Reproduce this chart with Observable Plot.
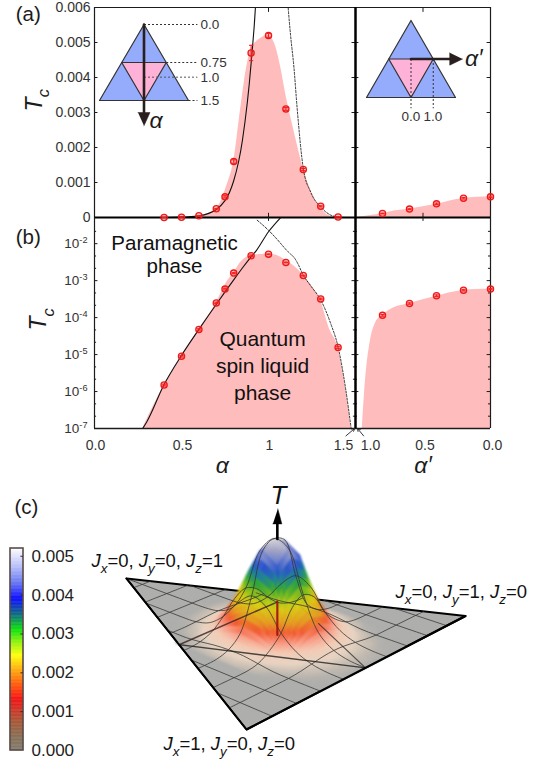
<!DOCTYPE html>
<html><head><meta charset="utf-8">
<script src="https://cdn.jsdelivr.net/npm/d3@7"></script>
<script src="https://cdn.jsdelivr.net/npm/@observablehq/plot@0.6"></script>
<style>html,body{margin:0;background:#fff}#page{position:relative;width:541px;height:762px;overflow:hidden}</style>
</head><body><div id="page"></div>
<script>
// ---------- data ----------
const pointAlpha=[.4,.5,.6,.7,.75,.8,.9,1,1.1,1.2,1.3,1.4];
const pointT=[1.5e-6,9e-6,4.8e-5,2.5e-4,5.9e-4,1.6e-3,4.7e-3,5.2e-3,3.1e-3,1.37e-3,3.2e-4,1.55e-5];
const pointErr=[8e-8,4e-7,2e-6,1e-5,3e-5,5e-5,2.2e-4,6e-5,4e-5,3e-5,1.5e-5,8e-7];
const primeAlpha=[.8,.6,.4,.2,0];
const primeT=[1.15e-4,2.4e-4,3.9e-4,5.5e-4,5.9e-4];
const primeErr=[6e-6,1e-5,2e-5,2e-5,2e-5];
const areaAlpha=[.277,.4,.5,.6,.7,.76,.8,.84,.875,.9,.95,1,1.04,1.07,1.1,1.15,1.2,1.25,1.3,1.35,1.4,1.442,1.475];
const areaT=[1e-7,1.5e-6,9e-6,4.8e-5,2.5e-4,9e-4,1.6e-3,3.1e-3,4.3e-3,4.8e-3,5.1e-3,5.2e-3,4.9e-3,4.3e-3,3.5e-3,2.4e-3,1.4e-3,7e-4,2.8e-4,5e-5,1.5e-5,1.3e-6,1e-7];
const primeAreaAlpha=[.95,.926,.889,.852,.8,.74,.6,.4,.2,0];
const primeAreaT=[1e-7,2e-6,2.4e-5,7e-5,1.15e-4,1.66e-4,2.4e-4,3.8e-4,5.4e-4,5.9e-4];
const solidAlpha=[.277,.3,.4,.5,.6,.7,.8,.85,.9,.93,1,1.07];
const solidT=[1e-7,1.5e-7,1.55e-6,9.5e-6,4.8e-5,2.3e-4,1.05e-3,2.2e-3,4.4e-3,6.5e-3,2.1e-2,5.1e-2];
const dashAlpha=[.935,1,1.05,1.113,1.127,1.146,1.165,1.2,1.242,1.3,1.357,1.4,1.442,1.475];
const dashT=[.043,.023,.013,.006,.0052,.0043,.0031,.0014,.00073,.0003,7e-5,1.6e-5,1.3e-6,1e-7];
const linearTicks=[0,.001,.002,.003,.004,.005,.006];
const logTicks=[1e-7,1e-6,1e-5,1e-4,1e-3,1e-2];
const colorbarTicks=[0,.001,.002,.003,.004,.005];
// T (in units of 0.001) on the surface, rows at Y=0,.05,...; columns at |X-.5|=0,.05,...
const surfaceY00=[0,0,0,0,0,0];
const surfaceY05=[.06,.05,.03,.01,0,0];
const surfaceY10=[.3,.26,.16,.06,0,0];
const surfaceY15=[.95,.8,.5,.24,.03,0];
const surfaceY20=[2.7,2.3,1.2,.55,.14,.01];
const surfaceY25=[4.9,4.3,2.3,.75,.25,.04];
const surfaceY30=[5.15,4.8,2.6,.85,.26,.04];
const surfaceY35=[4.2,3.4,1.9,.65,.2,.02];
const surfaceY40=[1.9,1.6,.9,.34,.08,0];
const surfaceY45=[.55,.46,.27,.1,0,0];
const surfaceY50=[.12,.09,.04,0,0,0];
const surfaceY55=[.01,0,0,0,0,0];
const surfaceRows=[surfaceY00,surfaceY05,surfaceY10,surfaceY15,surfaceY20,surfaceY25,surfaceY30,surfaceY35,surfaceY40,surfaceY45,surfaceY50,surfaceY55];
const barStops=[0,.0003,.0007,.001,.0013,.0016,.002,.00243,.0028,.0031,.0035,.0039,.0043,.0047,.0052];
const barColors=["#7e7468","#806a50","#a0522d","#c83020","#f00808","#ff4000","#ff9900","#ffff00","#80f000","#00e000","#006080","#0000ff","#6070f0","#b0b8f8","#ffffff"];
const skinStops=[0,.00005,.0002,.0005,.0008,.0012,.0016,.0023,.0027,.0032,.0036,.004,.0044,.0048,.0052];
const skinColors=["#aeaeac","#c6bdb2","#ead5c3","#f6ccb4","#fb9c86","#f4582f","#e69a1e","#d9cf10","#8cc21a","#2ca53a","#1b7fa0","#2a4fd0","#6d7fd0","#a8a8c4","#dcdce2"];

// ---------- layout ----------
const FONT='"Liberation Sans",Arial,sans-serif', INK="#1c1c1c", RED="#f01818", PINK="#ffbcbc";
const page=document.getElementById("page");
const base={style:{position:"absolute",left:0,top:0,overflow:"visible",background:"transparent",fontFamily:FONT,color:INK},className:"p"};
function rich(svg){
  svg.querySelectorAll("text").forEach(t=>{
    const s=t.textContent; if(!/[*~^]/.test(s)) return;
    const fs=parseFloat(getComputedStyle(t).fontSize)||14;
    t.textContent="";
    let last=0,pending=0;const re=/\*(.+?)\*|~(.+?)~|\^(.+?)\^/g;
    const add=(txt,o={})=>{const e=document.createElementNS("http://www.w3.org/2000/svg","tspan");e.textContent=txt;
      const dy=(o.dy||0)+pending;pending=0;if(dy)e.setAttribute("dy",dy);
      if(o.it)e.setAttribute("font-style","italic");if(o.fs)e.setAttribute("font-size",o.fs);t.appendChild(e);};
    let m;while((m=re.exec(s))){if(m.index>last)add(s.slice(last,m.index));
      if(m[1])add(m[1],{it:1});
      if(m[2]){add(m[2],{it:1,fs:fs*.72,dy:fs*.32});pending=-fs*.32;}
      if(m[3]){add(m[3],{fs:fs*.68,dy:-fs*.36});pending=fs*.36;}
      last=m.index+m[0].length;}
    if(last<s.length)add(s.slice(last));
  });
}
function put(o){const svg=Plot.plot({...base,...o,x:{axis:null,...o.x},y:{axis:null,...o.y}});page.appendChild(svg);rich(svg);return svg;}
const rows=(a,b,e)=>a.map((x,i)=>({x,T:b[i],e:e?e[i]:0}));
const pts=rows(pointAlpha,pointT,pointErr), prm=rows(primeAlpha,primeT,primeErr);
const areaL=rows(areaAlpha,areaT), areaR=rows(primeAreaAlpha,primeAreaT);
const solid=rows(solidAlpha,solidT), dash=rows(dashAlpha,dashT);
function pointMarks(d,cap){return [
  Plot.ruleX(d,{x:"x",y1:v=>v.T-v.e,y2:v=>v.T+v.e,stroke:RED,strokeWidth:1}),
  Plot.link(d,{x1:v=>v.x-cap,x2:v=>v.x+cap,y1:v=>v.T-v.e,y2:v=>v.T-v.e,stroke:RED,strokeWidth:1}),
  Plot.link(d,{x1:v=>v.x-cap,x2:v=>v.x+cap,y1:v=>v.T+v.e,y2:v=>v.T+v.e,stroke:RED,strokeWidth:1}),
  Plot.dot(d,{x:"x",y:"T",r:3.1,stroke:RED,strokeWidth:1.3,fill:"#ff3030",fillOpacity:.3})
];}
const tick=(vals,x1,x2,w=1)=>Plot.ruleY(vals,{x1,x2,stroke:INK,strokeWidth:w});

// ---------- (a) left ----------
const lin={y:{domain:[0,.006]},height:240,marginTop:7,marginBottom:23};
const fmt=d=>d===0?"0":d3.format(".3f")(d);
put({...lin,width:356,marginLeft:94,marginRight:1,x:{domain:[0,1.5]},marks:[
  Plot.areaY(areaL,{x:"x",y1:0,y2:"T",fill:PINK,curve:"monotone-x",clip:true}),
  Plot.line(solid,{x:"x",y:"T",stroke:"#111",strokeWidth:1.1,curve:"monotone-x",clip:true}),
  Plot.line(dash,{x:"x",y:"T",stroke:"#222",strokeWidth:.9,strokeDasharray:"2,1.6",curve:"monotone-x",clip:true}),
  Plot.axisY(linearTicks,{anchor:"left",tickSize:0,tickPadding:4,tickFormat:fmt,label:null,fontSize:14,fill:"#333"}),
  tick(linearTicks,0,.02),tick(linearTicks,1.5,1.48),
  Plot.ruleX([1],{y1:.006,y2:.00586,stroke:INK}),Plot.ruleX([1],{y1:0,y2:.00012,stroke:INK}),
  Plot.ruleX([0],{y1:0,y2:.006,stroke:INK,strokeWidth:1.2}),
  Plot.ruleY([.006],{x1:0,x2:1.5,stroke:INK,strokeWidth:1.2}),
  Plot.ruleY([0],{x1:0,x2:1.5,stroke:"#000",strokeWidth:1.8}),
  Plot.ruleX([1.5],{y1:0,y2:.006,stroke:"#000",strokeWidth:2}),
  ...pointMarks(pts,.012),
  Plot.text(["(a)"],{x:[-.453],y:[.0058],fontSize:20.5,textAnchor:"start",fill:INK}),
  Plot.text(["*T*~c~"],{x:[-.345],y:[.00335],rotate:-90,fontSize:23,fill:INK})
]});
// ---------- (a) right ----------
put({...lin,width:541,marginLeft:355,marginRight:51,x:{domain:[1,0]},marks:[
  Plot.areaY(rows([1,...primeAreaAlpha.slice(4)],[0,...primeAreaT.slice(4)]),{x:"x",y1:0,y2:"T",fill:PINK,curve:"monotone-x",clip:true}),
  tick(linearTicks,1,.975),tick(linearTicks,0,.025),
  Plot.ruleX([.5],{y1:.006,y2:.00586,stroke:INK}),Plot.ruleX([.5],{y1:0,y2:.00012,stroke:INK}),
  Plot.ruleX([0],{y1:0,y2:.006,stroke:INK,strokeWidth:1.2}),
  Plot.ruleY([.006],{x1:1,x2:0,stroke:INK,strokeWidth:1.2}),
  Plot.ruleY([0],{x1:1,x2:0,stroke:"#000",strokeWidth:1.8}),
  Plot.ruleX([1],{y1:0,y2:.006,stroke:"#000",strokeWidth:2}),
  ...pointMarks(prm,.015)
]});
// ---------- (b) left ----------
const log={y:{type:"log",domain:[1e-7,.051]},height:500,marginTop:217,marginBottom:72};
const minor=d3.range(-6.667,-1.4,1/3).map(v=>Math.pow(10,v)).filter(v=>!logTicks.some(t=>Math.abs(Math.log10(v/t))<.05));
put({...log,width:356,marginLeft:94,marginRight:1,x:{domain:[0,1.5]},marks:[
  Plot.areaY(areaL,{x:"x",y1:1e-7,y2:"T",fill:PINK,curve:"monotone-x",clip:true}),
  Plot.line(solid,{x:"x",y:"T",stroke:"#111",strokeWidth:1.1,curve:"monotone-x",clip:true}),
  Plot.line(dash,{x:"x",y:"T",stroke:"#222",strokeWidth:.9,strokeDasharray:"2,1.6",curve:"monotone-x",clip:true}),
  Plot.axisY(logTicks,{anchor:"left",tickSize:0,tickPadding:7,tickFormat:d=>`10^${Math.round(Math.log10(d))}^`,label:null,fontSize:13.5,fill:"#333"}),
  tick(logTicks,0,.02),tick(logTicks,1.5,1.48),tick(minor,0,.012),tick(minor,1.5,1.488),
  Plot.ruleX([1],{y1:.051,y2:.04,stroke:INK}),
  Plot.ruleX([0],{y1:1e-7,y2:.051,stroke:INK,strokeWidth:1.2}),
  Plot.ruleY([1e-7],{x1:0,x2:1.5,stroke:INK,strokeWidth:1.4}),
  Plot.ruleX([1.5],{y1:1e-7,y2:.051,stroke:"#000",strokeWidth:2}),
  ...pointMarks(pts,.012),
  Plot.text(["Paramagnetic\nphase"],{x:[.46],y:[5.1e-3],fontSize:20.5,lineHeight:1.13,fill:"#111"}),
  Plot.text(["Quantum\nspin liquid\nphase"],{x:[.966],y:[5.3e-6],fontSize:21,lineHeight:1.28,fill:"#111"}),
  Plot.text([0,.5,1],{x:d=>d,y:()=>1e-7,dy:17,dx:1,text:d=>d===1?"1":d.toFixed(1),fontSize:14,fill:"#333"}),
  Plot.text([1.5],{x:d=>d,y:()=>1e-7,dy:17,dx:-12,text:d=>d.toFixed(1),fontSize:14,fill:"#333"}),
  Plot.arrow([0],{x1:1.445,y1:10**-7.2,x2:1.495,y2:1e-7,stroke:"#222",strokeWidth:.9,headLength:5,bend:0}),
  Plot.text(["(b)"],{x:[-.453],y:[.0147],fontSize:20.5,textAnchor:"start",fill:INK}),
  Plot.text(["*T*~c~"],{x:[-.32],y:[10**-4.05],rotate:-90,fontSize:23,fill:INK}),
  Plot.text(["α"],{x:[.735],y:[10**-8],fontSize:23,fontStyle:"italic",fill:INK})
]});
// ---------- (b) right ----------
put({...log,width:541,marginLeft:355,marginRight:51,x:{domain:[1,0]},marks:[
  Plot.areaY(areaR,{x:"x",y1:1e-7,y2:"T",fill:PINK,curve:"monotone-x",clip:true}),
  tick(logTicks,1,.975),tick(logTicks,0,.025),tick(minor,1,.985),tick(minor,0,.015),
  Plot.ruleX([.5],{y1:.051,y2:.04,stroke:INK}),
  Plot.ruleX([0],{y1:1e-7,y2:.051,stroke:INK,strokeWidth:1.2}),
  Plot.ruleY([1e-7],{x1:1,x2:0,stroke:INK,strokeWidth:1.4}),
  Plot.ruleX([1],{y1:1e-7,y2:.051,stroke:"#000",strokeWidth:2}),
  ...pointMarks(prm,.015),
  Plot.text([.5,0],{x:d=>d,y:()=>1e-7,dy:17,dx:2,text:d=>d.toFixed(1),fontSize:14,fill:"#333"}),
  Plot.text([1],{x:d=>d,y:()=>1e-7,dy:17,dx:15,text:d=>d.toFixed(1),fontSize:14,fill:"#333"}),
  Plot.arrow([0],{x1:.94,y1:10**-7.2,x2:.985,y2:1e-7,stroke:"#222",strokeWidth:.9,headLength:5,bend:0}),
  Plot.text(["α′"],{x:[.5],y:[10**-8],fontSize:23,fontStyle:"italic",fill:INK})
]});

// ---------- schematic insets ----------
const triangleX=[0,-1,1,0], triangleY=[0,1,1,0], innerX=[-.5,.5,0,-.5], innerY=[.5,.5,1,.5];
const tri=(xs,ys)=>xs.map((x,i)=>({x,y:ys[i]}));
const BLUE="#95abfb", ROSE="#ffb2d8", DARK="#2a1f1f";
const triMarks=[
  Plot.line(tri(triangleX,triangleY),{x:"x",y:"y",fill:BLUE,stroke:"#333",strokeWidth:1.2}),
  Plot.line(tri(innerX,innerY),{x:"x",y:"y",fill:ROSE,stroke:"#333",strokeWidth:1.2})
];
const insetScale={x:{domain:[-1,1]},y:{domain:[1,0]},width:541,height:240};
const alphaLevels=[0,.75,1,1.5], alphaStart=[0,.5,0,1], alphaText=["0.0","0.75","1.0","1.5"];
const shiftTwo=d=>d===1;
put({...insetScale,marginLeft:99,marginRight:541-188,marginTop:24,marginBottom:240-100,marks:[
  ...triMarks,
  Plot.link(alphaLevels,{filter:d=>!shiftTwo(d),x1:(d,i)=>alphaStart[i],x2:1.2,y1:d=>d/1.5,y2:d=>d/1.5,stroke:"#333",strokeDasharray:"2,2",strokeWidth:1}),
  Plot.link(alphaLevels,{filter:shiftTwo,x1:(d,i)=>alphaStart[i],x2:1.2,y1:d=>d/1.5,y2:d=>d/1.5,stroke:"#555",strokeDasharray:"2,2",strokeWidth:1,dy:2}),
  Plot.text(alphaLevels,{filter:d=>!shiftTwo(d),x:1.27,y:d=>d/1.5,text:(d,i)=>alphaText[i],textAnchor:"start",fontSize:13.5,fill:"#333"}),
  Plot.text(alphaLevels,{filter:shiftTwo,x:1.27,y:d=>d/1.5,dy:2.5,text:(d,i)=>alphaText[i],textAnchor:"start",fontSize:13.5,fill:"#333"}),
  Plot.line([{x:0,y:0},{x:0,y:1.2}],{x:"x",y:"y",stroke:DARK,strokeWidth:2.6}),
  Plot.line([{x:-.135,y:1.158},{x:.135,y:1.158},{x:0,y:1.333}],{x:"x",y:"y",fill:DARK,stroke:DARK,strokeWidth:.5}),
  Plot.text(["α"],{x:[.27],y:[1.26],fontSize:23,fontStyle:"italic",fill:INK})
]});
const primeLevels=[0,1], primeText=["0.0","1.0"];
put({...insetScale,marginLeft:366,marginRight:541-455,marginTop:20,marginBottom:240-97,marks:[
  ...triMarks,
  Plot.link(primeLevels,{x1:d=>d*.5,x2:d=>d*.5,y1:.5,y2:1.14,stroke:"#333",strokeDasharray:"2,2",strokeWidth:1}),
  Plot.text(primeLevels,{x:d=>d*.49,y:1.25,text:(d,i)=>primeText[i],fontSize:13.5,fill:"#333"}),
  Plot.line([{x:0,y:.5},{x:.88,y:.5}],{x:"x",y:"y",stroke:DARK,strokeWidth:2.6}),
  Plot.line([{x:.87,y:.42},{x:.87,y:.58},{x:1.16,y:.5}],{x:"x",y:"y",fill:DARK,stroke:DARK,strokeWidth:.5}),
  Plot.text(["α′"],{x:[1.41],y:[.5],fontSize:23,fontStyle:"italic",fill:INK})
]});

// ---------- colour bar ----------
const levels=d3.range(0,.0052,.00002);
put({width:541,height:762,marginLeft:10,marginRight:518,marginTop:548,marginBottom:12,
  x:{domain:[0,1]},y:{domain:[0,.0052]},color:{type:"linear",domain:barStops,range:barColors},marks:[
  Plot.rect(levels,{x1:0,x2:1,y1:d=>d,y2:d=>d+.00002,fill:d=>d,stroke:d=>d,strokeWidth:.3}),
  Plot.rect([0],{x1:0,x2:1,y1:0,y2:.0052,fill:"none",stroke:"#5b4c48",strokeWidth:1.6}),
  Plot.ruleY(colorbarTicks.slice(1),{x1:1,x2:.8,stroke:"#3a2f2c",strokeWidth:1}),
  Plot.text(colorbarTicks,{x:1,y:d=>d,dx:8,text:d=>d.toFixed(3),textAnchor:"start",fontSize:17,fill:"#222"})
]});

// ---------- surface ----------
const cornerA=[126,578], cornerB=[465,615.5], cornerC=[246,729];
const wA=1.28, wB=1.19, wC=1, H=96/.0052, S3=Math.sqrt(3);
function project(X,Y,T=0){
  const la=2*Y/S3, lb=X-Y/S3, lc=1-la-lb;
  const a=wA*la,b=wB*lb,c=wC*lc,d=a+b+c;
  return [(a*cornerA[0]+b*cornerB[0]+c*cornerC[0])/d,(a*cornerA[1]+b*cornerB[1]+c*cornerC[1])/d-T*H];
}
const node=(i,j)=>{const r=surfaceRows[j];const v=r?r[Math.abs(i-10)]:0;return (v||0)/1000;};
const pt=(X,Y,T=0)=>{const [x,y]=project(X,Y,T);return {x,y};};
const plane=[pt(.5,S3/2),pt(1,0),pt(0,0),pt(.5,S3/2)];
// coloured skin: bilinear rendering of the table cells, back to front
const skin=[];let sid=0;const SUB=5;
for(let j=11;j>=0;j--)for(let i=5;i<15;i++){
  const q=[node(i,j),node(i+1,j),node(i,j+1),node(i+1,j+1)];
  if(Math.max(...q)===0)continue;
  const bl=(u,v)=>q[0]*(1-u)*(1-v)+q[1]*u*(1-v)+q[2]*(1-u)*v+q[3]*u*v;
  const P=(u,v)=>pt((i+u)*.05,(j+v)*.05,bl(u,v));
  for(let b=SUB-1;b>=0;b--)for(let a=0;a<SUB;a++){
    const u0=a/SUB,u1=(a+1)/SUB,v0=b/SUB,v1=(b+1)/SUB,t=bl((u0+u1)/2,(v0+v1)/2);
    [P(u0,v0),P(u1,v0),P(u1,v1),P(u0,v1)].forEach(p=>skin.push({...p,id:sid,T:t}));sid++;
  }
}
// mesh: lines parallel and perpendicular to the near edge
const mesh=[];let mid=0;
for(let k=1;k<10;k++){
  const i=k*2,X=k*.1,Ymax=S3*Math.min(X,1-X);
  for(let j=0;j*.05<Ymax-1e-6;j++)mesh.push({...pt(X,j*.05,node(i,j)),id:mid});
  mesh.push({...pt(X,Ymax),id:mid});mid++;
}
for(let k=1;k*.1<S3/2;k++){
  const j=k*2,Y=k*.1,x0=Y/S3,x1=1-Y/S3;
  mesh.push({...pt(x0,Y),id:mid});
  for(let i=Math.ceil(x0/.05+1e-6);i*.05<x1-1e-6;i++)mesh.push({...pt(i*.05,Y,node(i,j)),id:mid});
  mesh.push({...pt(x1,Y),id:mid});mid++;
}
const midAC=pt(.25,S3/4),midAB=pt(.75,S3/4),midBC=pt(.5,0);
const along=(p,q,f)=>({x:p.x+(q.x-p.x)*f,y:p.y+(q.y-p.y)*f});
const tx=pt(.5,S3/6);
put({width:541,height:762,margin:0,x:{domain:[0,541]},y:{domain:[762,0]},
  color:{type:"linear",domain:skinStops,range:skinColors},marks:[
  Plot.line(plane,{x:"x",y:"y",fill:"#aeaeac",stroke:"#000",strokeWidth:2}),
  Plot.line([midAC,midAB,midBC,midAC],{x:"x",y:"y",stroke:"#222",strokeWidth:1.4}),
  Plot.line(skin,{x:"x",y:"y",z:"id",fill:"T",stroke:"T",strokeWidth:.5,imageFilter:"blur(1.1px)"}),
  Plot.line(mesh,{x:"x",y:"y",z:"id",stroke:"#333",strokeWidth:.85,strokeOpacity:.9,curve:"catmull-rom"}),
  Plot.line([midAC,midBC],{x:"x",y:"y",stroke:"#222",strokeWidth:1.3,strokeOpacity:.8}),
  Plot.line([midAC,along(midAC,midAB,.88)],{x:"x",y:"y",stroke:"#3a2222",strokeWidth:1.5,strokeOpacity:.8}),
  Plot.line([midBC,along(midBC,midAB,.62)],{x:"x",y:"y",stroke:"#222",strokeWidth:1.2,strokeOpacity:.7}),
  Plot.line([pt(1,0),pt(0,0),pt(.5,S3/2)],{x:"x",y:"y",stroke:"#000",strokeWidth:2}),
  Plot.line([tx,pt(.5,S3/6,.0018)],{x:"x",y:"y",stroke:"#a01010",strokeWidth:2.2,strokeOpacity:.9}),
  Plot.line([pt(.5,S3/6,.0052),pt(.5,S3/6,.0060)],{x:"x",y:"y",stroke:"#000",strokeWidth:2.6}),
  Plot.line([{x:tx.x-4.5,y:tx.y-111},{x:tx.x+4.5,y:tx.y-111},{x:tx.x+.5,y:tx.y-126}],{x:"x",y:"y",fill:"#000",stroke:"#000",strokeWidth:.5}),
  Plot.text(["*T*"],{x:[tx.x+1],y:[tx.y-139],fontSize:26,fill:"#111"}),
  Plot.text(["(c)"],{x:[14],y:[507],fontSize:20.5,textAnchor:"start",fill:INK}),
  Plot.text(["*J*~x~=0, *J*~y~=0, *J*~z~=1"],{x:[91],y:[561],fontSize:18.5,textAnchor:"start",fill:"#111"}),
  Plot.text(["*J*~x~=0, *J*~y~=1, *J*~z~=0"],{x:[395],y:[592],fontSize:18.5,textAnchor:"start",fill:"#111"}),
  Plot.text(["*J*~x~=1, *J*~y~=0, *J*~z~=0"],{x:[163],y:[744],fontSize:18.5,textAnchor:"start",fill:"#111"})
]});
</script></body></html>
